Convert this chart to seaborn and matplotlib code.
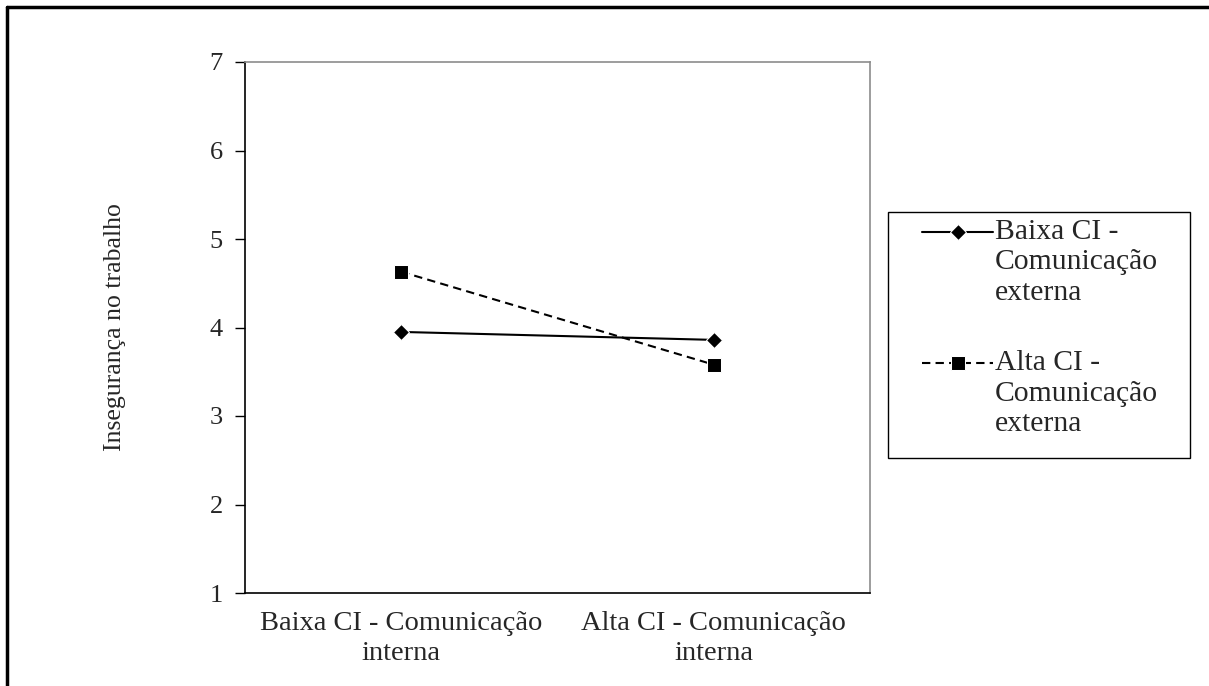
import pandas as pd
import numpy as np
import matplotlib.pyplot as plt
import seaborn as sns
from matplotlib.lines import Line2D
from matplotlib.patches import Rectangle
from matplotlib.legend_handler import HandlerLine2D

# values
categories = ['Baixa CI - Comunicação\ninterna', 'Alta CI - Comunicação\ninterna']
baixa_externa = [3.95, 3.86]
alta_externa = [4.63, 3.58]
series_labels = ['Baixa CI -\nComunicação\nexterna', 'Alta CI -\nComunicação\nexterna']
y_ticks = [1, 2, 3, 4, 5, 6, 7]

sns.set_style('white')
plt.rcParams['font.family'] = ['Liberation Serif', 'DejaVu Serif']

W, H = 1209, 686
fig = plt.figure(figsize=(W / 100, H / 100), dpi=100)
ax = fig.add_axes([245 / W, 1 - 593 / H, (870 - 245) / W, (593 - 62) / H])

df = pd.DataFrame({
    'cat': categories * 2,
    'valor': baixa_externa + alta_externa,
    'serie': [series_labels[0]] * 2 + [series_labels[1]] * 2,
})

sns.lineplot(data=df[df['serie'] == series_labels[0]], x='cat', y='valor',
             color='black', lw=1.5, marker='D', markersize=8,
             label=series_labels[0], ax=ax)
sns.lineplot(data=df[df['serie'] == series_labels[1]], x='cat', y='valor',
             color='black', lw=1.5, linestyle=(0, (4, 2.5)), marker='s',
             markersize=9.5, label=series_labels[1], ax=ax)

ax.set_xlim(-0.5, 1.5)
ax.set_ylim(1, 7)
ax.set_yticks(y_ticks)
ax.set_xticks([0, 1])
ax.set_xticklabels(categories, fontsize=20.5, linespacing=1.26)
ax.set_xticks([-0.5, 0.5, 1.5], minor=True)
ax.tick_params(axis='x', which='major', length=0, pad=13)
ax.tick_params(axis='x', which='minor', length=8, width=1, color='black', direction='out')
ax.tick_params(axis='y', length=7, width=1, color='black', direction='out',
               labelsize=19, pad=9, left=True)
ax.set_xlabel('')
ax.set_ylabel('Insegurança no trabalho', fontsize=18.5, labelpad=60)

for side in ['left', 'bottom']:
    ax.spines[side].set_color('black')
    ax.spines[side].set_linewidth(1.2)
for side in ['right', 'top']:
    ax.spines[side].set_color('#8c8c8c')
    ax.spines[side].set_linewidth(1.2)


# legend handle sits on the first text line, as in the original
class TopLineHandler(HandlerLine2D):
    def create_artists(self, legend, orig_handle, xdescent, ydescent,
                       width, height, fontsize, trans):
        return super().create_artists(legend, orig_handle, xdescent,
                                      ydescent - 2 * 21.5, width, height,
                                      fontsize, trans)


handles, labels = ax.get_legend_handles_labels()
leg = ax.legend(handles, labels, loc='upper left',
                bbox_to_anchor=(922 / W, 1 - 219 / H),
                bbox_transform=fig.transFigure, fontsize=21.3, frameon=False,
                handlelength=2.4, handletextpad=0.07, labelspacing=1.5,
                borderpad=0, borderaxespad=0,
                handler_map={h: TopLineHandler() for h in handles})
for t in leg.get_texts():
    t.set_linespacing(1.22)

# legend box
fig.add_artist(Rectangle((888 / W, 1 - 458 / H), (1190 - 888) / W, (458 - 212) / H,
                         transform=fig.transFigure, fill=False,
                         edgecolor='black', lw=1.0))

# figure border (left and top only)
fig.add_artist(Line2D([7 / W, 7 / W], [0, 1 - 7 / H], transform=fig.transFigure,
                      color='black', lw=2.5))
fig.add_artist(Line2D([7 / W, 1], [1 - 7 / H, 1 - 7 / H], transform=fig.transFigure,
                      color='black', lw=2.5))

fig.savefig('out.png', dpi=100)
